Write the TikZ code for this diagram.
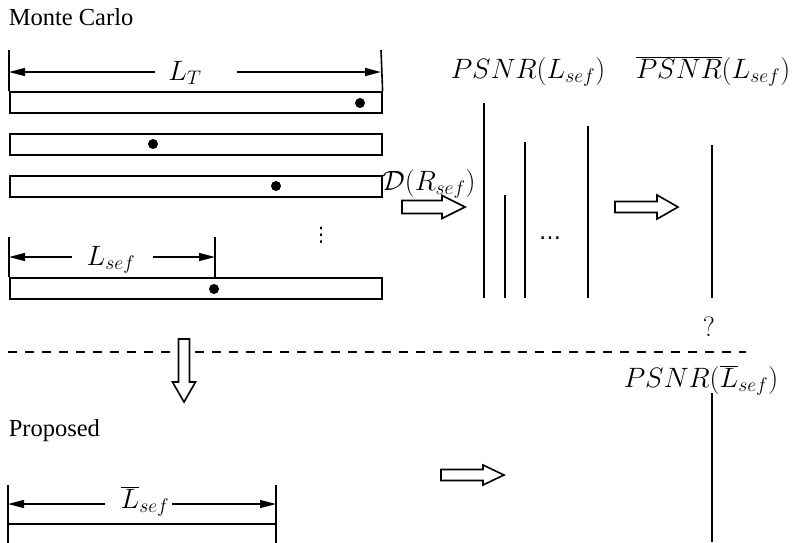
\RequirePackage{fix-cm}
\documentclass[tikz,border=0pt]{standalone}
\usepackage[no-math]{fontspec}
\setmainfont{Liberation Serif}
\newfontfamily\dotfont{DejaVu Sans}
\usetikzlibrary{arrows.meta}
\newcommand{\labfont}{\fontsize{28}{34}\selectfont}
\newcommand{\txtfont}{\fontsize{24.5}{29}\selectfont}
\begin{document}
\begin{tikzpicture}[x=1pt,y=-1pt,
  line width=1.6pt,
  bar/.style={draw, line width=1.6pt, rectangle, inner sep=0pt, anchor=north west},
  blob/.style={fill=black, circle, inner sep=0pt, minimum size=10pt},
  tick/.style={line width=1.6pt},
  dim/.style={line width=1.4pt, -{Triangle[length=16pt,width=8pt]}},
  mlab/.style={font=\labfont, inner sep=0pt, anchor=base},
  ttext/.style={font=\txtfont, inner sep=0pt, anchor=base west},
  psnr/.style={line width=1.8pt},
  hollow/.style={draw, line width=1.6pt, fill=white, line join=miter},
  sep/.style={line width=1.6pt, dash pattern=on 9pt off 8pt}
]
\useasboundingbox (0,0) rectangle (792,542);

% titles
\node[ttext] (mc) at (8,25) {Monte Carlo};
\node[ttext] (prop) at (8,436) {Proposed};

% Monte Carlo bars
\node[bar, minimum width=372pt, minimum height=21pt] (b1) at (9,91) {};
\node[bar, minimum width=372pt, minimum height=21pt] (b2) at (9,133) {};
\node[bar, minimum width=372pt, minimum height=21pt] (b3) at (9,175) {};
\node[bar, minimum width=372pt, minimum height=21pt] (b4) at (9,277) {};
\node[blob] (d1) at (360,103) {};
\node[blob] (d2) at (153,144) {};
\node[blob] (d3) at (276,186) {};
\node[blob] (d4) at (214,289) {};
\node[font=\dotfont\fontsize{20}{24}\selectfont, inner sep=0pt] (vd) at (321,235) {⋮};

% L_T dimension
\coordinate (lt0) at (9,50);
\coordinate (lt1) at (381,50);
\draw[tick] (lt0) -- (b1.north west);
\draw[tick] (lt1) -- (b1.north east);
\node[mlab] (LT) at (185,80) {$L_T$};
\coordinate (ltl) at (155,72);
\coordinate (ltr) at (237,72);
\coordinate (ltla) at (9,72);
\coordinate (ltra) at (381,72);
\draw[dim] (ltl) -- (ltla);
\draw[dim] (ltr) -- (ltra);

% L_sef dimension
\coordinate (ls0) at (9,237);
\coordinate (ls1) at (215,237);
\coordinate (ls1b) at (215,277);
\draw[tick] (ls0) -- (b4.north west);
\draw[tick] (ls1) -- (ls1b);
\node[mlab] (Ls) at (111,265) {$L_{sef}$};
\coordinate (lsl) at (72,257);
\coordinate (lsr) at (153,257);
\coordinate (lsla) at (9,257);
\coordinate (lsra) at (215,257);
\draw[dim] (lsl) -- (lsla);
\draw[dim] (lsr) -- (lsra);

% D(R_sef) and first hollow arrow
\node[mlab] (D) at (429,190) {$\mathcal{D}(R_{sef})$};
\draw[hollow] (402,200.5) -- (442,200.5) -- (442,195.5) -- (465,207) -- (442,218.5) -- (442,213.5) -- (402,213.5) -- cycle;

% PSNR labels
\node[mlab] (P1) at (528,78) {$PSNR(L_{sef})$};
\node[mlab] (P2) at (713,78) {$\overline{PSNR}(L_{sef})$};
\node[mlab] (P3) at (701,387) {$PSNR(\overline{L}_{sef})$};

% PSNR samples
\coordinate (s1t) at (484,103); \coordinate (s1b) at (484,298);
\coordinate (s2t) at (505,195); \coordinate (s2b) at (505,298);
\coordinate (s3t) at (525,142); \coordinate (s3b) at (525,298);
\coordinate (s4t) at (588,126); \coordinate (s4b) at (588,298);
\draw[psnr] (s1t) -- (s1b);
\draw[psnr] (s2t) -- (s2b);
\draw[psnr] (s3t) -- (s3b);
\draw[psnr] (s4t) -- (s4b);
\node[font=\dotfont\fontsize{22}{26}\selectfont, inner sep=0pt, anchor=base] (dots) at (550,239) {…};

% second hollow arrow
\draw[hollow] (615,201.5) -- (657,201.5) -- (657,195) -- (678,207) -- (657,219) -- (657,212.5) -- (615,212.5) -- cycle;

% mean PSNR
\coordinate (mt) at (712,145); \coordinate (mb) at (712,298);
\draw[psnr] (mt) -- (mb);
\node[font=\labfont, inner sep=0pt, anchor=base] (q) at (709,336) {$?$};

% separator
\coordinate (sepl) at (8,352);
\coordinate (sepr) at (746,352);
\draw[sep] (sepl) -- (sepr);

% down hollow arrow
\draw[hollow] (178.5,339) -- (189.5,339) -- (189.5,382) -- (195.5,382) -- (184,402) -- (172.5,382) -- (178.5,382) -- cycle;

% proposed PSNR
\coordinate (pt) at (712,393); \coordinate (pb) at (712,542);
\draw[psnr] (pt) -- (pb);

% third hollow arrow
\draw[hollow] (441,469.5) -- (483,469.5) -- (483,465) -- (504,475) -- (483,485) -- (483,480.5) -- (441,480.5) -- cycle;

% proposed bar and dimension
\coordinate (bl0) at (8,485); \coordinate (bl1) at (8,545);
\coordinate (br0) at (276,485); \coordinate (br1) at (276,545);
\coordinate (bt0) at (8,524); \coordinate (bt1) at (276,524);
\draw[tick] (bl0) -- (bl1);
\draw[tick] (br0) -- (br1);
\draw[tick] (bt0) -- (bt1);
\node[mlab] (Lb) at (145,508) {$\overline{L}_{sef}$};
\coordinate (bll) at (105,504);
\coordinate (brr) at (172,504);
\coordinate (blla) at (8,504);
\coordinate (brra) at (276,504);
\draw[dim] (bll) -- (blla);
\draw[dim] (brr) -- (brra);
\end{tikzpicture}
\end{document}
